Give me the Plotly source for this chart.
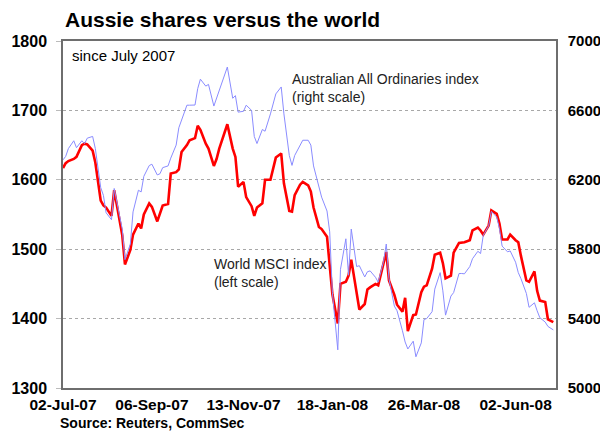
import pandas as pd
import plotly.graph_objects as go

# every second trading day from 2 July 2007
dates = pd.bdate_range("2007-07-02", "2008-06-30")[::2]

msci_world = [
    1617, 1624, 1627, 1630, 1633, 1650, 1652, 1651, 1642, 1625,
    1570, 1563, 1560, 1548, 1585, 1539, 1520, 1478, 1499, 1521,
    1537, 1530, 1550, 1566, 1561, 1540, 1553, 1563, 1565, 1609,
    1611, 1615, 1640, 1650, 1657, 1660, 1678, 1672, 1652, 1645,
    1620, 1630, 1645, 1668, 1680, 1645, 1633, 1590, 1597, 1575,
    1562, 1548, 1560, 1566, 1600, 1600, 1615, 1632, 1638, 1595,
    1555, 1554, 1578, 1593, 1597, 1592, 1583, 1560, 1532, 1529,
    1518, 1478, 1435, 1393, 1450, 1453, 1462, 1485, 1440, 1413,
    1421, 1442, 1445, 1450, 1448, 1478, 1496, 1455, 1434, 1420,
    1410, 1430, 1382, 1405, 1406, 1438, 1446, 1448, 1472, 1492,
    1495, 1480, 1458, 1462, 1495, 1509, 1509, 1510, 1513, 1527,
    1531, 1527, 1521, 1534, 1556, 1551, 1537, 1514, 1514, 1521,
    1513, 1510, 1490, 1455, 1453, 1468, 1440, 1426, 1424, 1399,
    1395,
]

all_ords = [
    6315, 6335, 6380, 6425, 6385, 6425, 6408, 6440, 6450, 6380,
    6155, 6110, 6010, 5970, 6150, 5990, 5915, 5740, 5830, 6015,
    6140, 6130, 6220, 6282, 6290, 6228, 6235, 6270, 6280, 6325,
    6400, 6500, 6548, 6630, 6630, 6631, 6725, 6780, 6740, 6750,
    6625, 6668, 6715, 6800, 6850, 6670, 6685, 6590, 6595, 6630,
    6600, 6450, 6409, 6490, 6480, 6580, 6645, 6695, 6735, 6580,
    6340, 6283, 6340, 6400, 6428, 6428, 6400, 6280, 6170, 6100,
    6020, 5900, 5549, 5220, 5684, 5860, 5650, 5916, 5700, 5705,
    5640, 5670, 5675, 5638, 5610, 5730, 5830, 5630, 5472, 5445,
    5330, 5265, 5225, 5270, 5180, 5260, 5395, 5400, 5440, 5570,
    5665, 5560, 5420, 5530, 5550, 5660, 5660, 5658, 5700, 5745,
    5788, 5775, 5880, 5935, 6018, 5985, 5920, 5818, 5785, 5790,
    5725, 5665, 5630, 5545, 5465, 5491, 5445, 5405, 5380, 5355,
    5335,
]

x_tick_dates = ["2007-07-02", "2007-09-06", "2007-11-13", "2008-01-18", "2008-03-26", "2008-06-02"]
x_tick_text = ["02-Jul-07", "06-Sep-07", "13-Nov-07", "18-Jan-08", "26-Mar-08", "02-Jun-08"]
left_ticks = [1300, 1400, 1500, 1600, 1700, 1800]
right_ticks = [5000, 5400, 5800, 6200, 6600, 7000]

FONT = "Liberation Sans, Arial, sans-serif"

fig = go.Figure()
fig.add_trace(go.Scatter(
    x=dates, y=all_ords, yaxis="y2", mode="lines",
    line=dict(color="#8a8cff", width=1), name="Australian All Ordinaries index",
))
fig.add_trace(go.Scatter(
    x=dates, y=msci_world, mode="lines",
    line=dict(color="#ff0000", width=2.6), name="World MSCI index",
))

fig.update_layout(
    width=600, height=434,
    margin=dict(l=63, r=44, t=41, b=46),
    paper_bgcolor="white", plot_bgcolor="white",
    showlegend=False,
    font=dict(family=FONT, color="black"),
    title=dict(text="<b>Aussie shares versus the world</b>",
               x=65 / 600, xanchor="left", xref="container",
               y=1 - 20 / 434, yanchor="middle", yref="container",
               font=dict(size=21, family=FONT, color="black")),
    xaxis=dict(
        type="date", range=["2007-07-02", "2008-07-02"],
        tickvals=x_tick_dates, ticktext=x_tick_text,
        tickfont=dict(size=15.5, family=FONT, color="black", weight="bold"),
        showgrid=False, showline=True, linecolor="#6e6e6e", linewidth=1.5,
        mirror=True, ticks="", ticklabelstandoff=2, zeroline=False,
        automargin=False,
    ),
    yaxis=dict(
        range=[1300, 1800], tickvals=left_ticks,
        tickfont=dict(size=16, family=FONT, color="black", weight="bold"),
        showgrid=True, gridcolor="#a8a8a8", griddash="dot", gridwidth=1,
        showline=True, linecolor="#6e6e6e", linewidth=1.5,
        ticks="outside", ticklen=5, tickcolor="#bbbbbb",
        ticklabelstandoff=6, zeroline=False, automargin=False,
    ),
    yaxis2=dict(
        range=[5000, 7000], tickvals=right_ticks, overlaying="y", side="right",
        tickfont=dict(size=15, family=FONT, color="black", weight="bold"),
        showgrid=False, showline=True, linecolor="#6e6e6e", linewidth=1.5,
        ticks="", ticklabelstandoff=7, zeroline=False, automargin=False,
    ),
    annotations=[
        dict(text="since July 2007", xref="paper", yref="paper",
             x=(70 - 63) / 493, y=(388 - 56) / 347, xanchor="left", yanchor="middle",
             showarrow=False, font=dict(size=15, family=FONT, color="black")),
        dict(text="Australian All Ordinaries index<br>(right scale)", xref="paper", yref="paper",
             x=(290 - 63) / 493, y=(388 - 88) / 347, xanchor="left", yanchor="middle",
             align="left", showarrow=False, font=dict(size=14, family=FONT, color="#222222")),
        dict(text="World MSCI index<br>(left scale)", xref="paper", yref="paper",
             x=(212 - 63) / 493, y=(388 - 273) / 347, xanchor="left", yanchor="middle",
             align="left", showarrow=False, font=dict(size=14, family=FONT, color="#222222")),
        dict(text="<b>Source: Reuters, CommSec</b>", xref="paper", yref="paper",
             x=(58 - 63) / 493, y=(388 - 423) / 347, xanchor="left", yanchor="middle",
             showarrow=False, font=dict(size=14, family=FONT, color="black")),
    ],
)

fig.write_html("out.html", config={"displayModeBar": False},
               post_script="document.body.style.margin='0';")
